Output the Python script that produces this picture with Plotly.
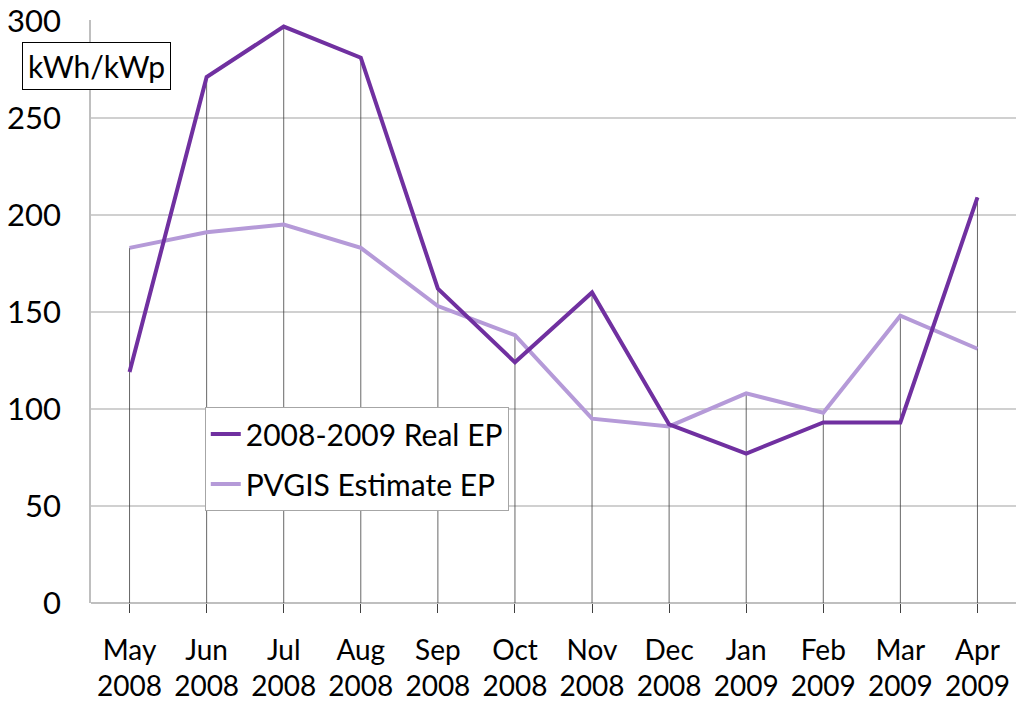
import plotly.graph_objects as go

months = ["May<br>2008", "Jun<br>2008", "Jul<br>2008", "Aug<br>2008", "Sep<br>2008", "Oct<br>2008",
          "Nov<br>2008", "Dec<br>2008", "Jan<br>2009", "Feb<br>2009", "Mar<br>2009", "Apr<br>2009"]
real_ep = [119, 271, 297, 281, 162, 124, 160, 92, 77, 93, 93, 209]
pvgis_ep = [183, 191, 195, 183, 153, 138, 95, 91, 108, 98, 148, 131]
y_ticks = [0, 50, 100, 150, 200, 250, 300]

FONT = "Lato"

# drop lines from highest value down to zero
drop_x, drop_y = [], []
for m, a, b in zip(months, real_ep, pvgis_ep):
    drop_x += [m, m, None]
    drop_y += [0, max(a, b), None]

fig = go.Figure()
fig.add_trace(go.Scatter(x=drop_x, y=drop_y, mode="lines", showlegend=False,
                         line=dict(color="#404040", width=0.8), hoverinfo="skip"))
fig.add_trace(go.Scatter(x=months, y=pvgis_ep, mode="lines", name="PVGIS Estimate EP",
                         legendgroup="b", legendrank=2, line=dict(color="#B59AD8", width=4)))
fig.add_trace(go.Scatter(x=months, y=real_ep, mode="lines", name="2008-2009 Real EP",
                         legendgroup="a", legendrank=1, line=dict(color="#7030A0", width=4)))

fig.update_layout(
    width=1024, height=719,
    margin=dict(l=91, r=8, t=20, b=116),
    paper_bgcolor="white", plot_bgcolor="white",
    font=dict(family=FONT, size=28, color="black"),
    showlegend=True,
    legend=dict(x=0.123, y=0.336, xanchor="left", yanchor="top",
                bgcolor="white", bordercolor="#A6A6A6", borderwidth=1,
                font=dict(size=30, family=FONT), traceorder="grouped",
                itemwidth=30, tracegroupgap=8),
    xaxis=dict(type="category", categoryorder="array", categoryarray=months,
               showgrid=False, ticks="outside", ticklen=9, tickcolor="#404040", tickwidth=0.8,
               showline=False, tickfont=dict(size=28, family=FONT), range=[-0.5, 11.5],
               ticklabelstandoff=13, automargin=False),
    yaxis=dict(range=[0, 300.4], tickvals=y_ticks, showgrid=True, gridcolor="#D0D0D0", gridwidth=1.5,
               zeroline=True, zerolinecolor="#BFBFBF", zerolinewidth=1.5,
               showline=True, linecolor="#BFBFBF", linewidth=1.5,
               ticks="", tickfont=dict(size=31, family=FONT), ticklabelstandoff=22,
               ticklabeloverflow="allow", automargin=False),
)

fig.add_annotation(xref="paper", yref="paper", x=-0.0746, y=0.9625, xanchor="left", yanchor="top",
                   text="kWh/kWp", showarrow=False, font=dict(size=30, family=FONT),
                   bordercolor="black", borderwidth=1, borderpad=5, bgcolor="white")

fig.write_html("out.html", config={"displayModeBar": False},
               post_script="document.body.style.margin='0';document.body.style.overflow='hidden';")
